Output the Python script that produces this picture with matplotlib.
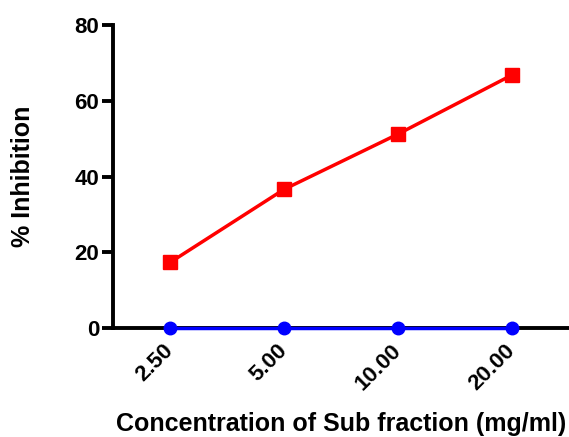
import matplotlib
matplotlib.use("Agg")
import matplotlib.pyplot as plt

plt.rcParams.update({
    "font.family": ["Liberation Sans", "DejaVu Sans"],
    "font.weight": "bold",
})

# -------- data --------
concentrations = ["2.50", "5.00", "10.00", "20.00"]
sub_fraction = [17.3, 36.6, 51.2, 66.8]
control = [0, 0, 0, 0]

fig = plt.figure(figsize=(5.69, 4.37), dpi=100)
ax = fig.add_axes([0.1986, 0.2494, 0.8014, 0.6934])

x = range(len(concentrations))
ax.plot(x, sub_fraction, color="red", marker="s", markersize=10.5,
        linewidth=2.5, clip_on=False, zorder=3)
ax.plot(x, control, color="blue", marker="o", markersize=9,
        linewidth=2.5, clip_on=False, zorder=4)

ax.set_xlim(-0.5, 3.5)
ax.set_ylim(0, 80)
ax.set_yticks([0, 20, 40, 60, 80])
ax.set_xticks(list(x))
ax.set_xticklabels(concentrations, rotation=45, ha="right", va="center",
                   rotation_mode="anchor")

for side in ["top", "right"]:
    ax.spines[side].set_visible(False)
for side in ["left", "bottom"]:
    ax.spines[side].set_linewidth(2.8)

ax.tick_params(axis="y", length=8, width=2.8, labelsize=16, pad=2)
ax.tick_params(axis="x", length=0, labelsize=16, pad=14)

ax.set_ylabel("% Inhibition", fontsize=18, fontweight="bold", labelpad=28)
ax.set_xlabel("Concentration of Sub fraction (mg/ml)", fontsize=18,
              fontweight="bold", labelpad=13)

fig.savefig("out.png", dpi=100)
